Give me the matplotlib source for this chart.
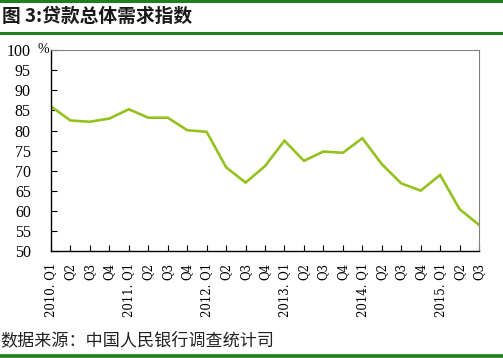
import matplotlib
matplotlib.use( 'Agg' )
import matplotlib.pyplot as plt
from matplotlib.lines import Line2D

plt.rcParams[ 'font.family' ] = [ 'Noto Sans CJK SC', 'DejaVu Sans' ]

_GREEN_RULE = '#1F7F1F'
_LINE_COLOR = '#95C11F'

years    = [ '2010', '2011', '2012', '2013', '2014', '2015' ]
quarters = [ 'Q1', 'Q2', 'Q3', 'Q4' ]
n_points = 23

demand_index = [ 86.0, 82.5, 82.2, 83.0, 85.3, 83.2, 83.2, 80.1,
                 79.7, 70.9, 67.1, 71.2, 77.5, 72.5, 74.8, 74.5,
                 78.1, 71.7, 66.9, 65.1, 69.0, 60.5, 56.6 ]

labels = []
for i in range( n_points ):
    y, q = divmod( i, 4 )
    labels.append( f'{years[ y ]}. {quarters[ q ]}' if q == 0 else quarters[ q ] )

fig = plt.figure( figsize = ( 5.03, 3.58 ), dpi = 100 )
ax = fig.add_axes( [ 0.1014, 0.2975, 0.851, 0.5628 ] )

ax.plot( range( n_points ), demand_index, color = _LINE_COLOR, lw = 1.9, solid_joinstyle = 'miter' )

ax.set_xlim( 0, n_points - 1 )
ax.set_ylim( 50, 100 )
ax.set_yticks( range( 50, 101, 5 ) )
ax.set_xticks( range( n_points ) )
ax.set_xticklabels( labels, rotation = 90, family = 'DejaVu Serif', fontsize = 8.5 )
ax.set_yticklabels( [ str( v ) for v in range( 50, 101, 5 ) ], family = 'Liberation Serif', fontsize = 11.5 )
ax.tick_params( axis = 'both', direction = 'in', length = 4, width = 0.8, colors = 'black' )
ax.tick_params( axis = 'x', pad = 8 )
ax.tick_params( axis = 'y', pad = 14.5 )

for side in [ 'left', 'bottom' ]:
    ax.spines[ side ].set_color( 'black' )
    ax.spines[ side ].set_linewidth( 1.0 )
for side in [ 'top', 'right' ]:
    ax.spines[ side ].set_color( '#808080' )
    ax.spines[ side ].set_linewidth( 0.8 )

fig.text( 0.0855, 0.862, '%', family = 'Liberation Serif', fontsize = 10, ha = 'center', va = 'center' )

fig.text( 0.004, 0.953, '图 3:贷款总体需求指数', fontsize = 13.5, fontweight = 'bold', ha = 'left', va = 'center', color = '#1a1a1a' )
fig.text( 0.0, 0.05, '数据来源：中国人民银行调查统计司', fontsize = 12.3, ha = 'left', va = 'center', color = '#222222' )

for y, lw in [ ( 0.997, 2.2 ), ( 0.909, 2.2 ), ( 0.006, 2.6 ) ]:
    fig.add_artist( Line2D( [ 0, 1 ], [ y, y ], transform = fig.transFigure, color = _GREEN_RULE, lw = lw ) )

fig.savefig( 'out.png', dpi = 100 )
